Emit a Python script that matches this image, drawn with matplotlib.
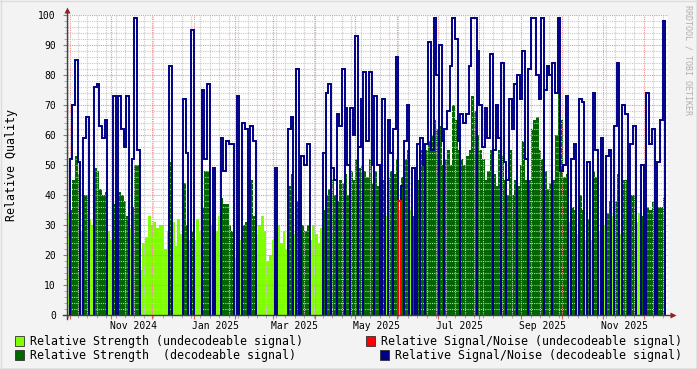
import datetime as dt

import numpy as np
import matplotlib
matplotlib.use('Agg')
import matplotlib.pyplot as plt
import matplotlib.dates as mdates
from matplotlib.patches import Rectangle
from matplotlib.lines import Line2D

# one value per 2-day bin, starting 2024-09-29
START = dt.datetime(2024, 9, 29)
BIN_DAYS = 2
X_DAYS = 446

strength = [
    34, 35, 45, 53, 47, 28, 40, 40, 32, 30,
    49, 48, 42, 40, 41, 28, 25, 37, 27, 41,
    40, 38, 33, 29, 36, 50, 50, 15, 24, 26,
    33, 30, 31, 29, 30, 30, 22, 28, 51, 31,
    23, 32, 27, 44, 30, 25, 28, 25, 32, 28,
    36, 48, 48, 30, 30, 28, 33, 39, 37, 37,
    30, 28, 19, 33, 25, 30, 31, 27, 45, 33,
    27, 30, 33, 28, 18, 20, 25, 30, 30, 24,
    28, 22, 43, 47, 27, 38, 22, 30, 28, 30,
    25, 30, 27, 24, 29, 35, 40, 42, 45, 40,
    38, 45, 44, 47, 40, 48, 45, 52, 49, 50,
    48, 46, 52, 44, 48, 43, 32, 45, 33, 46,
    48, 47, 52, 35, 46, 52, 55, 35, 33, 27,
    45, 55, 50, 55, 58, 60, 65, 62, 63, 50,
    52, 55, 50, 70, 65, 55, 52, 50, 53, 55,
    73, 68, 60, 55, 52, 45, 48, 55, 47, 43,
    55, 53, 45, 40, 55, 40, 45, 43, 50, 58,
    45, 45, 62, 65, 66, 55, 52, 48, 42, 44,
    45, 60, 75, 65, 46, 47, 31, 36, 35, 27,
    40, 35, 25, 32, 25, 48, 46, 28, 38, 30,
    34, 38, 33, 38, 47, 27, 45, 45, 28, 40,
    40, 31, 34, 33, 31, 36, 35, 38, 34, 36,
    36, 39,
]

# signal/noise while decodeable, 0 = undecodeable
snr = [
    0, 52, 70, 85, 51, 0, 59, 66, 0, 0,
    76, 77, 63, 59, 65, 0, 0, 73, 0, 73,
    62, 56, 73, 0, 52, 99, 55, 0, 0, 0,
    0, 0, 0, 0, 0, 0, 0, 0, 83, 0,
    0, 0, 0, 72, 54, 0, 95, 0, 0, 0,
    75, 52, 77, 0, 49, 0, 0, 59, 48, 58,
    57, 57, 0, 73, 0, 64, 62, 0, 63, 58,
    0, 0, 0, 0, 0, 0, 0, 49, 0, 0,
    0, 0, 62, 66, 0, 82, 0, 53, 50, 57,
    0, 0, 0, 0, 0, 54, 74, 77, 49, 45,
    67, 63, 82, 69, 50, 69, 60, 93, 56, 72,
    81, 58, 81, 50, 73, 50, 0, 72, 0, 65,
    54, 62, 86, 0, 43, 58, 70, 0, 49, 0,
    57, 59, 50, 57, 91, 55, 99, 80, 90, 58,
    62, 68, 83, 99, 92, 58, 67, 64, 67, 83,
    99, 99, 88, 70, 56, 69, 59, 87, 55, 70,
    59, 84, 51, 45, 72, 62, 77, 80, 72, 88,
    52, 82, 99, 99, 80, 72, 99, 75, 83, 80,
    84, 74, 99, 48, 50, 73, 0, 52, 57, 0,
    72, 71, 0, 51, 0, 74, 55, 0, 59, 0,
    53, 55, 0, 63, 84, 0, 70, 67, 0, 57,
    63, 0, 0, 50, 0, 74, 57, 62, 0, 51,
    65, 98,
]

# bins where the S/N line briefly dips to zero at the left edge
snr_drop_bins = [96, 98, 100, 103, 105, 108, 110, 114, 121, 125, 131, 133,
                 138, 140, 146, 152, 158, 161, 163, 167, 171, 177, 180]

# S/N while undecodeable
undec_snr_bins = [123]
undec_snr = [38]

x_labels = ['Nov 2024', 'Jan 2025', 'Mar 2025', 'May 2025',
            'Jul 2025', 'Sep 2025', 'Nov 2025']
label_dates = [dt.datetime(2024, 11, 17), dt.datetime(2025, 1, 17),
               dt.datetime(2025, 3, 17), dt.datetime(2025, 5, 17),
               dt.datetime(2025, 7, 17), dt.datetime(2025, 9, 17),
               dt.datetime(2025, 11, 17)]

LIME = '#80ff00'
DGREEN = '#006600'
NAVY = '#000088'
RED = '#ff0000'
MONO = 'DejaVu Sans Mono'

W, H = 697, 369
fig = plt.figure(figsize=(W / 100, H / 100), dpi=100)
fig.patch.set_facecolor('#f3f3f3')
ax = fig.add_axes([67 / W, 1 - 315 / H, 601 / W, 300 / H])
ax.set_facecolor('white')

t0 = mdates.date2num(START)
n = len(strength)
left = t0 + BIN_DAYS * np.arange(n)
strength = np.array(strength)
snr = np.array(snr)
dec = snr > 0

ax.bar(left[~dec], strength[~dec], width=BIN_DAYS, align='edge',
       color=LIME, linewidth=0, zorder=1)
ax.bar(left[dec], strength[dec], width=BIN_DAYS, align='edge',
       color=DGREEN, linewidth=0, zorder=1)

# S/N outline, split into runs that fall back to zero
runs = []
cur = []
for k in range(n):
    if snr[k] == 0 or (k in snr_drop_bins and cur):
        if cur:
            runs.append(cur)
        cur = [k] if snr[k] > 0 else []
    else:
        cur.append(k)
if cur:
    runs.append(cur)
for run in runs:
    edges = t0 + BIN_DAYS * np.arange(run[0], run[-1] + 2)
    ax.stairs(snr[run], edges, baseline=0, fill=False, color=NAVY,
              linewidth=1.4, zorder=3)

for k, v in zip(undec_snr_bins, undec_snr):
    ax.stairs([v], [left[k], left[k] + BIN_DAYS], baseline=0, fill=False,
              color=RED, linewidth=1.4, zorder=3)

ax.set_xlim(t0, t0 + X_DAYS)
ax.set_ylim(0, 100)

ax.xaxis.set_major_locator(mdates.MonthLocator())
ax.xaxis.set_minor_locator(mdates.WeekdayLocator(byweekday=mdates.MO))
ax.yaxis.set_major_locator(plt.MultipleLocator(10))
ax.yaxis.set_minor_locator(plt.MultipleLocator(2))
ax.set_xticklabels([])
ax.set_axisbelow(False)  # grid over the areas, under the S/N lines
ax.grid(which='minor', color='#c8c8c8', linestyle=(0, (1, 1)), linewidth=0.8)
ax.grid(which='major', color='#f09090', linestyle=(0, (1, 1)), linewidth=0.8)
ax.tick_params(axis='x', which='major', length=3, color='#e06060', direction='out')
ax.tick_params(axis='x', which='minor', length=2, color='#a0a0a0', direction='out')
ax.tick_params(axis='y', which='major', length=3, color='#808080', pad=5,
               labelsize=7, labelfontfamily=MONO, labelcolor='#000000')
ax.tick_params(axis='y', which='minor', length=2, color='#a0a0a0')
for s in ax.spines.values():
    s.set_visible(False)

for lab, d in zip(x_labels, label_dates):
    ax.annotate(lab, (mdates.date2num(d), 0), xycoords=('data', 'axes fraction'),
                xytext=(0, -11), textcoords='offset pixels', ha='center', va='center',
                fontsize=7, family=MONO)

# axis lines with arrow heads
ax.plot([-0.006, 1.006], [0, 0], transform=ax.transAxes, color='#404040',
        lw=1, clip_on=False, zorder=5)
ax.plot([0, 0], [-0.012, 1.012], transform=ax.transAxes, color='#404040',
        lw=1, clip_on=False, zorder=5)
ax.plot([1.009], [0], transform=ax.transAxes, marker='>', ms=4, color='#902020',
        clip_on=False, zorder=6, mec='none')
ax.plot([0], [1.018], transform=ax.transAxes, marker='^', ms=4, color='#902020',
        clip_on=False, zorder=6, mec='none')

fig.text(12 / W, 1 - 165 / H, 'Relative Quality', rotation=90, ha='center',
         va='center', fontsize=8.4, family=MONO)
fig.text(688 / W, 1 - 5 / H, 'RRDTOOL / TOBI OETIKER', rotation=270, ha='center',
         va='top', fontsize=6, family=MONO, color='#b0b0b0')

legend = [
    (15, 341, LIME, 'Relative Strength (undecodeable signal)'),
    (366, 341, RED, 'Relative Signal/Noise (undecodeable signal)'),
    (15, 355, DGREEN, 'Relative Strength  (decodeable signal)'),
    (380, 355, NAVY, 'Relative Signal/Noise (decodeable signal)'),
]
for x, y, c, txt in legend:
    fig.patches.append(Rectangle((x / W, 1 - (y + 5) / H), 9 / W, 10 / H,
                                 transform=fig.transFigure, facecolor=c,
                                 edgecolor='#303030', linewidth=0.6))
    fig.text((x + 15) / W, 1 - y / H, txt, ha='left', va='center',
             fontsize=8.4, family=MONO)

# canvas border
fig.add_artist(Line2D([0, 1], [0.5 / H, 0.5 / H], transform=fig.transFigure,
                      color='#9e9e9e', lw=1))
fig.add_artist(Line2D([1 - 0.5 / W, 1 - 0.5 / W], [0, 1], transform=fig.transFigure,
                      color='#9e9e9e', lw=1))
fig.add_artist(Line2D([0, 1], [1 - 0.5 / H, 1 - 0.5 / H], transform=fig.transFigure,
                      color='#dcdcdc', lw=1))
fig.add_artist(Line2D([0.5 / W, 0.5 / W], [0, 1], transform=fig.transFigure,
                      color='#dcdcdc', lw=1))

fig.savefig('out.png', dpi=100, facecolor=fig.get_facecolor())
